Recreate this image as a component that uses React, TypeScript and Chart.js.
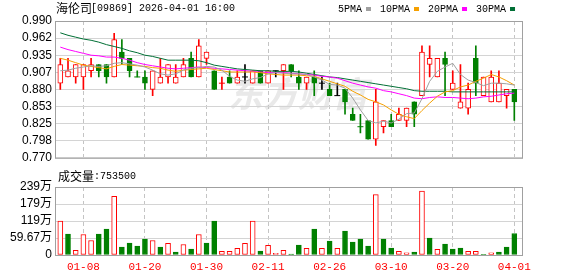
import React, { useEffect, useRef } from "react";
import { Chart, registerables } from "chart.js";

Chart.register(...registerables);

// ---------- data ----------
const dates = [
  "01-05", "01-06", "01-07", "01-08", "01-09", "01-12", "01-13", "01-14", "01-15", "01-16",
  "01-19", "01-20", "01-21", "01-22", "01-23", "01-26", "01-27", "01-28", "01-29", "01-30",
  "02-02", "02-03", "02-04", "02-05", "02-06", "02-09", "02-10", "02-11", "02-12", "02-13",
  "02-16", "02-20", "02-23", "02-24", "02-25", "02-26", "02-27", "03-02", "03-03", "03-04",
  "03-05", "03-06", "03-09", "03-10", "03-11", "03-12", "03-13", "03-16", "03-17", "03-18",
  "03-19", "03-20", "03-23", "03-24", "03-25", "03-26", "03-27", "03-30", "03-31", "04-01",
];
const xTickLabels = ["01-08", "01-20", "01-30", "02-11", "02-26", "03-10", "03-20", "04-01"];

const openP = [
  0.89, 0.90, 0.90, 0.90, 0.91, 0.92, 0.92, 0.90, 0.94, 0.93,
  0.90, 0.90, 0.88, 0.89, 0.90, 0.89, 0.90, 0.93, 0.90, 0.93,
  0.91, 0.89, 0.90, 0.89, 0.90, 0.89, 0.91, 0.89, 0.91, 0.91,
  0.92, 0.90, 0.89, 0.90, 0.89, 0.88, 0.87, 0.88, 0.84, 0.82,
  0.83, 0.80, 0.82, 0.83, 0.83, 0.83, 0.86, 0.87, 0.92, 0.90,
  0.93, 0.88, 0.85, 0.85, 0.93, 0.87, 0.86, 0.86, 0.87, 0.88,
];
const highP = [
  0.93, 0.93, 0.92, 0.92, 0.93, 0.92, 0.92, 0.97, 0.96, 0.93,
  0.91, 0.91, 0.91, 0.93, 0.92, 0.92, 0.93, 0.94, 0.96, 0.94,
  0.91, 0.90, 0.91, 0.91, 0.92, 0.91, 0.91, 0.91, 0.91, 0.92,
  0.92, 0.91, 0.90, 0.91, 0.90, 0.89, 0.89, 0.88, 0.85, 0.84,
  0.83, 0.88, 0.83, 0.84, 0.85, 0.85, 0.86, 0.95, 0.95, 0.93,
  0.94, 0.91, 0.92, 0.89, 0.95, 0.90, 0.91, 0.91, 0.88, 0.88,
];
const lowP = [
  0.88, 0.90, 0.89, 0.88, 0.90, 0.90, 0.89, 0.90, 0.92, 0.90,
  0.90, 0.88, 0.87, 0.89, 0.89, 0.89, 0.90, 0.90, 0.90, 0.92,
  0.88, 0.88, 0.89, 0.89, 0.89, 0.89, 0.89, 0.89, 0.90, 0.88,
  0.90, 0.88, 0.88, 0.87, 0.88, 0.87, 0.87, 0.84, 0.83, 0.81,
  0.80, 0.79, 0.81, 0.82, 0.83, 0.82, 0.82, 0.87, 0.90, 0.90,
  0.87, 0.88, 0.85, 0.84, 0.87, 0.87, 0.86, 0.86, 0.85, 0.83,
];
const closeP = [
  0.92, 0.91, 0.92, 0.92, 0.92, 0.91, 0.90, 0.96, 0.93, 0.91,
  0.90, 0.89, 0.91, 0.90, 0.92, 0.90, 0.92, 0.90, 0.95, 0.94,
  0.88, 0.89, 0.89, 0.90, 0.90, 0.91, 0.89, 0.91, 0.91, 0.92,
  0.91, 0.89, 0.90, 0.89, 0.89, 0.87, 0.87, 0.86, 0.83, 0.82,
  0.80, 0.86, 0.83, 0.82, 0.84, 0.85, 0.84, 0.94, 0.93, 0.93,
  0.92, 0.89, 0.86, 0.88, 0.89, 0.90, 0.90, 0.89, 0.88, 0.86,
];

const ma5 = [
  0.910, 0.911, 0.914, 0.916, 0.918, 0.917, 0.918, 0.922, 0.923, 0.921,
  0.919, 0.916, 0.911, 0.905, 0.903, 0.905, 0.911, 0.914, 0.915, 0.917,
  0.916, 0.911, 0.901, 0.895, 0.893, 0.897, 0.899, 0.905, 0.907, 0.906,
  0.905, 0.905, 0.904, 0.900, 0.895, 0.888, 0.887, 0.882, 0.866, 0.847,
  0.830, 0.826, 0.829, 0.826, 0.832, 0.841, 0.842, 0.865, 0.893, 0.909,
  0.916, 0.922, 0.904, 0.895, 0.891, 0.886, 0.890, 0.890, 0.889, 0.887,
];
const ma10 = [
  0.930, 0.927, 0.923, 0.919, 0.917, 0.915, 0.913, 0.917, 0.920, 0.919,
  0.918, 0.917, 0.915, 0.914, 0.911, 0.909, 0.911, 0.912, 0.913, 0.914,
  0.912, 0.910, 0.908, 0.908, 0.908, 0.908, 0.907, 0.905, 0.904, 0.903,
  0.903, 0.903, 0.902, 0.901, 0.897, 0.893, 0.889, 0.885, 0.877, 0.871,
  0.864, 0.860, 0.855, 0.847, 0.840, 0.836, 0.833, 0.846, 0.858, 0.869,
  0.876, 0.878, 0.884, 0.887, 0.893, 0.898, 0.904, 0.900, 0.894, 0.887,
];
const ma20 = [
  0.948, 0.944, 0.941, 0.938, 0.935, 0.934, 0.932, 0.932, 0.930, 0.927,
  0.923, 0.920, 0.918, 0.916, 0.914, 0.913, 0.914, 0.915, 0.916, 0.915,
  0.914, 0.913, 0.912, 0.911, 0.910, 0.909, 0.908, 0.907, 0.907, 0.907,
  0.906, 0.905, 0.904, 0.903, 0.901, 0.900, 0.898, 0.894, 0.890, 0.887,
  0.884, 0.882, 0.878, 0.876, 0.873, 0.870, 0.866, 0.865, 0.867, 0.868,
  0.867, 0.867, 0.866, 0.865, 0.866, 0.868, 0.869, 0.871, 0.873, 0.874,
];
const ma30 = [
  0.971, 0.967, 0.964, 0.961, 0.959, 0.956, 0.952, 0.949, 0.946, 0.942,
  0.939, 0.935, 0.933, 0.930, 0.927, 0.927, 0.927, 0.927, 0.926, 0.923,
  0.919, 0.917, 0.915, 0.913, 0.912, 0.911, 0.910, 0.910, 0.909, 0.909,
  0.909, 0.908, 0.906, 0.904, 0.902, 0.900, 0.899, 0.897, 0.895, 0.893,
  0.891, 0.889, 0.887, 0.885, 0.883, 0.881, 0.878, 0.877, 0.877, 0.877,
  0.877, 0.876, 0.876, 0.876, 0.876, 0.876, 0.876, 0.876, 0.876, 0.876,
];

const volume = [
  1190000, 730000, 160000, 720000, 510000, 730000, 910000, 2060000, 280000, 420000,
  310000, 560000, 510000, 280000, 410000, 100000, 370000, 210000, 720000, 420000,
  1190000, 130000, 130000, 230000, 410000, 1190000, 140000, 340000, 60000, 160000,
  35000, 350000, 230000, 910000, 230000, 490000, 230000, 840000, 450000, 560000,
  310000, 2120000, 560000, 240000, 130000, 80000, 100000, 2240000, 590000, 200000,
  380000, 210000, 240000, 130000, 130000, 20000, 80000, 100000, 280000, 753500,
];
// 1 = red (rise), 0 = green (fall), as coloured in the volume pane
const volumeUp = [
  1, 0, 1, 1, 1, 0, 0, 1, 0, 0,
  0, 0, 1, 0, 1, 0, 1, 0, 1, 0,
  0, 1, 1, 1, 1, 1, 0, 1, 1, 1,
  0, 0, 1, 0, 1, 0, 1, 0, 0, 0,
  0, 1, 0, 0, 1, 1, 0, 1, 0, 1,
  0, 0, 0, 1, 1, 0, 1, 0, 0, 0,
];

const priceTickLabels = ["0.770", "0.798", "0.825", "0.853", "0.880", "0.907", "0.935", "0.962", "0.990"];
const priceMin = 0.77;
const priceMax = 0.99;
const volTickLabels = ["0", "59.67万", "119万", "179万", "239万"];
const volMax = 2386800;

const titleName = "海伦司";
const titleRest = "[09869] 2026-04-01 16:00";
const legendLabels = ["5PMA", "10PMA", "20PMA", "30PMA"];
const volumeTitle = "成交量";
const watermark = "东方财富";

// ---------- styles ----------
const RED = "#ff0000";
const GREEN = "#008000";
const FLAT = "#000000";
const GRID = "#d4d4d4";
const VGRID = "#c4c4c4";
const FRAME = "#a0a0a0";
const MA_COLORS = ["#a0a0a0", "#f5a000", "#ff00ff", "#006f35"];
const MONO = "'Liberation Mono', 'DejaVu Sans Mono', monospace";
const CJK = "'Noto Sans CJK SC', sans-serif";
const SANS = "'Liberation Sans', Arial, 'Noto Sans CJK SC', sans-serif";
const X_MIN = -0.69;
const X_MAX = 60.13;

const idx = dates.map((_, i) => i);

function candleColor(i: number): string {
  if (closeP[i] > openP[i]) return RED;
  if (closeP[i] < openP[i]) return GREEN;
  const prev = i > 0 ? closeP[i - 1] : closeP[i];
  if (closeP[i] > prev) return RED;
  if (closeP[i] < prev) return GREEN;
  return FLAT;
}

function xScale(showLabels: boolean): any {
  return {
    type: "linear",
    min: X_MIN,
    max: X_MAX,
    offset: false,
    afterBuildTicks: (s: any) => {
      s.ticks = xTickLabels.map((l) => ({ value: dates.indexOf(l) }));
    },
    ticks: showLabels
      ? {
          display: true,
          autoSkip: false,
          maxRotation: 0,
          minRotation: 0,
          color: RED,
          font: { family: MONO, size: 11 },
          padding: 5,
          callback: (v: any) => dates[v],
        }
      : { display: false },
    grid: { color: VGRID, drawTicks: false, lineWidth: 1, offset: false },
    border: { display: false, dash: [4, 3] },
    afterFit: (s: any) => {
      s.height = showLabels ? 21 : 0;
    },
  };
}

function drawFrame(chart: any) {
  const { ctx, chartArea } = chart;
  const { left, top, right, bottom } = chartArea;
  ctx.save();
  ctx.strokeStyle = FRAME;
  ctx.lineWidth = 1;
  ctx.strokeRect(left + 0.5, top + 0.5, right - left - 1, bottom - top);
  ctx.restore();
}

const priceDecor = {
  id: "priceDecor",
  beforeDraw(chart: any) {
    const { ctx } = chart;
    ctx.save();
    ctx.fillStyle = "#e9e9e9";
    ctx.font = `italic bold 35px ${CJK}`;
    ctx.textBaseline = "middle";
    ctx.fillText(watermark, 228, 94);
    ctx.restore();
  },
  afterDraw(chart: any) {
    const { ctx } = chart;
    drawFrame(chart);
    ctx.save();
    ctx.fillStyle = "#000";
    ctx.textBaseline = "middle";
    ctx.font = `12px ${CJK}`;
    ctx.fillText(titleName, 56, 8.5);
    const w = ctx.measureText(titleName).width;
    ctx.font = `10px ${MONO}`;
    ctx.fillText(titleRest, 56 + w - 1, 8.5);
    // legend
    let x = 338;
    legendLabels.forEach((lab, k) => {
      ctx.fillStyle = "#000";
      ctx.font = `10px ${MONO}`;
      ctx.fillText(lab, x, 9);
      x += ctx.measureText(lab).width + 4;
      ctx.fillStyle = MA_COLORS[k];
      ctx.fillRect(x, 7, 5, 4);
      x += 5 + 9;
    });
    ctx.restore();
  },
};

const volDecor = {
  id: "volDecor",
  afterDraw(chart: any) {
    const { ctx } = chart;
    drawFrame(chart);
    ctx.save();
    ctx.fillStyle = "#000";
    ctx.textBaseline = "middle";
    ctx.font = `12px ${CJK}`;
    ctx.fillText(volumeTitle, 58, 8);
    const w = ctx.measureText(volumeTitle).width;
    ctx.font = `10px ${MONO}`;
    ctx.fillText(":" + volume[volume.length - 1], 58 + w, 8);
    ctx.restore();
  },
};

function yScale(min: number, max: number, labels: string[]): any {
  return {
    type: "linear",
    min,
    max,
    afterBuildTicks: (s: any) => {
      const n = labels.length;
      s.ticks = labels.map((_, k) => ({ value: min + (k * (max - min)) / (n - 1) }));
    },
    ticks: {
      color: "#000",
      font: { family: SANS, size: 12 },
      padding: 3,
      autoSkip: false,
      callback: (_v: any, k: number) => labels[k],
    },
    grid: { color: GRID, drawTicks: false },
    border: { display: false },
    afterFit: (s: any) => {
      s.width = 55;
    },
  };
}

export default function App() {
  const priceRef = useRef<HTMLCanvasElement | null>(null);
  const volRef = useRef<HTMLCanvasElement | null>(null);

  useEffect(() => {
    document.body.style.margin = "0";
    const colors = idx.map(candleColor);
    const maSets = [ma5, ma10, ma20, ma30].map((arr, k) => ({
      type: "line" as const,
      data: idx.map((i) => ({ x: i, y: arr[i] })),
      borderColor: MA_COLORS[k],
      borderWidth: 1,
      pointRadius: 0,
      tension: 0,
      fill: false,
    }));
    const dojiIdx = idx.filter((i) => openP[i] === closeP[i]);
    const price = new Chart(priceRef.current as HTMLCanvasElement, {
      type: "bar",
      data: {
        datasets: [
          ...maSets,
          {
            type: "line" as const,
            data: dojiIdx.map((i) => ({ x: i, y: closeP[i] })),
            showLine: false,
            pointStyle: "line",
            pointRadius: 3,
            pointBorderWidth: 1,
            pointBorderColor: dojiIdx.map((i) => colors[i]),
            pointBackgroundColor: dojiIdx.map((i) => colors[i]),
          } as any,
          {
            type: "bar" as const,
            data: idx.map((i) => ({ x: i, y: [openP[i], closeP[i]] })),
            backgroundColor: idx.map((i) => (closeP[i] > openP[i] ? "#ffffff" : colors[i])),
            borderColor: colors,
            borderWidth: 1,
            borderSkipped: false,
            barThickness: 5,
            grouped: false,
          } as any,
          {
            type: "bar" as const,
            data: idx.map((i) => ({ x: i, y: [lowP[i], highP[i]] })),
            backgroundColor: colors,
            borderWidth: 0,
            barThickness: 1,
            grouped: false,
          } as any,
        ],
      },
      options: {
        responsive: false,
        animation: false,
        events: [],
        layout: { autoPadding: false, padding: { top: 21, right: 55, bottom: 4, left: 0 } },
        plugins: { legend: { display: false }, tooltip: { enabled: false } },
        scales: {
          x: xScale(false),
          y: yScale(priceMin, priceMax, priceTickLabels),
        } as any,
      },
      plugins: [priceDecor],
    });

    const vol = new Chart(volRef.current as HTMLCanvasElement, {
      type: "bar",
      data: {
        datasets: [
          {
            data: idx.map((i) => ({ x: i, y: volume[i] })),
            backgroundColor: idx.map((i) => (volumeUp[i] ? "#ffffff" : GREEN)),
            borderColor: idx.map((i) => (volumeUp[i] ? RED : GREEN)),
            borderWidth: 1,
            borderSkipped: false,
            barThickness: 5,
            grouped: false,
          } as any,
        ],
      },
      options: {
        responsive: false,
        animation: false,
        events: [],
        layout: { autoPadding: false, padding: { top: 19, right: 55, bottom: 0, left: 0 } },
        plugins: { legend: { display: false }, tooltip: { enabled: false } },
        scales: {
          x: xScale(true),
          y: yScale(0, volMax, volTickLabels),
        } as any,
      },
      plugins: [volDecor],
    });

    return () => {
      price.destroy();
      vol.destroy();
    };
  }, []);

  return (
    <div style={{ position: "fixed", left: 0, top: 0, width: 578, height: 276, background: "#fff" }}>
      <canvas ref={priceRef} width={578} height={168} style={{ position: "absolute", left: 0, top: 0 }} />
      <canvas ref={volRef} width={578} height={108} style={{ position: "absolute", left: 0, top: 168 }} />
    </div>
  );
}
